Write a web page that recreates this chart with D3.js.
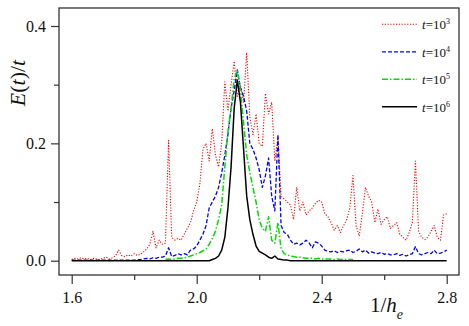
<!DOCTYPE html>
<html>
<head>
<meta charset="utf-8">
<script src="https://cdn.jsdelivr.net/npm/d3@7"></script>
<style>
  body { margin: 0; background: #fff; }
  svg text { font-family: "Liberation Serif", "Times New Roman", serif; fill: #111; }
</style>
</head>
<body>
<div id="chart"></div>
<script>
const width = 469, height = 326;

// x grid: 1/h_e from 1.60 in steps of 0.01
const xStart = 1.6, xStep = 0.01;

// t = 10^3 (red, dotted), 1.60 .. 2.80
const red = [
  0.002, 0.004, 0.003, 0.005, 0.003, 0.004, 0.002, 0.004, 0.003, 0.002,
  0.004, 0.006, 0.003, 0.005, 0.008, 0.018, 0.009, 0.007, 0.010, 0.008,
  0.012, 0.009, 0.011, 0.015, 0.020, 0.028, 0.050, 0.022, 0.035, 0.028,
  0.030, 0.205, 0.040, 0.035, 0.038, 0.035, 0.045, 0.055, 0.065, 0.085,
  0.100, 0.130, 0.190, 0.200, 0.170, 0.225, 0.180, 0.160, 0.200, 0.305,
  0.255, 0.300, 0.340, 0.280, 0.300, 0.270, 0.355, 0.245, 0.215, 0.250,
  0.200, 0.195, 0.285, 0.250, 0.270, 0.170, 0.210, 0.110, 0.105, 0.100,
  0.095, 0.070, 0.125, 0.085, 0.100, 0.078, 0.085, 0.090, 0.098, 0.103,
  0.100, 0.080, 0.075, 0.065, 0.052, 0.060, 0.048, 0.060, 0.070, 0.090,
  0.145, 0.060, 0.042, 0.080, 0.125, 0.110, 0.100, 0.065, 0.088, 0.062,
  0.070, 0.075, 0.055, 0.060, 0.065, 0.045, 0.040, 0.035, 0.048, 0.065,
  0.170, 0.050, 0.040, 0.036, 0.040, 0.050, 0.060, 0.040, 0.035, 0.078,
  0.080
];

// t = 10^4 (blue, dashed), 1.60 .. 2.80
const blue = [
  0.001, 0.001, 0.001, 0.001, 0.001, 0.001, 0.001, 0.001, 0.001, 0.001,
  0.001, 0.001, 0.001, 0.001, 0.001, 0.001, 0.001, 0.001, 0.001, 0.001,
  0.001, 0.002, 0.002, 0.003, 0.004, 0.003, 0.005, 0.004, 0.006, 0.006,
  0.008, 0.022, 0.007, 0.009, 0.012, 0.010, 0.012, 0.010, 0.018, 0.020,
  0.025, 0.035, 0.045, 0.060, 0.090, 0.100, 0.110, 0.125, 0.150, 0.180,
  0.215, 0.260, 0.290, 0.325, 0.295, 0.280, 0.255, 0.200, 0.190, 0.175,
  0.155, 0.125, 0.145, 0.175, 0.110, 0.085, 0.215, 0.060, 0.048, 0.045,
  0.035, 0.028, 0.030, 0.027, 0.030, 0.035, 0.030, 0.022, 0.032, 0.030,
  0.025, 0.018, 0.016, 0.015, 0.017, 0.014, 0.016, 0.015, 0.017, 0.018,
  0.014, 0.016, 0.020, 0.015, 0.018, 0.013, 0.015, 0.013, 0.012, 0.014,
  0.011, 0.012, 0.010, 0.010, 0.012, 0.009, 0.011, 0.008, 0.010, 0.012,
  0.024, 0.012, 0.010, 0.012, 0.014, 0.012, 0.018, 0.012, 0.013, 0.015,
  0.018
];

// t = 10^5 (green, dash-dot), 1.90 .. 2.50
const greenStart = 1.9;
const green = [
  0.002, 0.003, 0.002, 0.003, 0.004, 0.004, 0.005, 0.006, 0.008, 0.010,
  0.012, 0.014, 0.017, 0.020, 0.028, 0.038, 0.050, 0.070, 0.095, 0.160,
  0.220, 0.260, 0.310, 0.325, 0.290, 0.235, 0.180, 0.150, 0.125, 0.100,
  0.070, 0.055, 0.050, 0.075, 0.035, 0.030, 0.065, 0.020, 0.012, 0.010,
  0.008, 0.007, 0.006, 0.006, 0.005, 0.004, 0.004, 0.004, 0.003, 0.004,
  0.003, 0.003, 0.003, 0.003, 0.002, 0.003, 0.002, 0.002, 0.002, 0.002,
  0.002
];

// t = 10^6 (black, solid), 1.60 .. 2.80
const black = [
  0, 0, 0, 0, 0, 0, 0, 0, 0, 0,
  0, 0, 0, 0, 0, 0, 0, 0, 0, 0,
  0, 0, 0, 0, 0, 0, 0, 0, 0, 0,
  0, 0, 0, 0, 0, 0, 0, 0, 0, 0,
  0, 0, 0, 0, 0, 0.002, 0.004, 0.008, 0.018, 0.040,
  0.090, 0.160, 0.260, 0.308, 0.270, 0.190, 0.110, 0.070, 0.045, 0.025,
  0.016, 0.013, 0.010, 0.006, 0.004, 0.008, 0.003, 0.002, 0.001, 0.001,
  0, 0, 0, 0, 0, 0, 0, 0, 0, 0,
  0, 0, 0, 0, 0, 0, 0, 0, 0, 0,
  0, 0, 0, 0, 0, 0, 0, 0, 0, 0,
  0, 0, 0, 0, 0, 0, 0, 0, 0, 0,
  0, 0, 0, 0, 0, 0, 0, 0, 0, 0,
  0
];

const xTicks = [1.6, 2.0, 2.4, 2.8];
const xMinor = [1.8, 2.2, 2.6];
const yTicks = [0.0, 0.2, 0.4];
const yMinor = [0.1, 0.3];
const legendExp = ["3", "4", "5", "6"];

const series = [
  { values: red, start: xStart, color: "#ff0000", dash: "1.2,1.6", w: 1.1 },
  { values: blue, start: xStart, color: "#0000ff", dash: "4,2", w: 1.3 },
  { values: green, start: greenStart, color: "#00dd00", dash: "6,2,1.5,2", w: 1.5 },
  { values: black, start: xStart, color: "#000000", dash: null, w: 1.5 }
];

const frame = { left: 59, top: 8, right: 459, bottom: 275 };

const svg = d3.select("#chart")
  .append("svg")
  .attr("width", width)
  .attr("height", height);

const x = d3.scaleLinear().domain([1.6, 2.8]).range([71.7, 446.7]);
const y = d3.scaleLinear().domain([0, 0.4]).range([260.7, 26]);

// lines
const line = d3.line()
  .x((d) => x(d[0]))
  .y((d) => y(d[1]));

series.forEach(function(s) {
  let pts = s.values.map((v, i) => [s.start + i * xStep, v]);
  svg.append("path")
    .attr("d", line(pts))
    .attr("fill", "none")
    .attr("stroke", s.color)
    .attr("stroke-width", s.w)
    .attr("stroke-dasharray", s.dash)
    .attr("stroke-linejoin", "round");
});

// frame
svg.append("rect")
  .attr("x", frame.left)
  .attr("y", frame.top)
  .attr("width", frame.right - frame.left)
  .attr("height", frame.bottom - frame.top)
  .attr("fill", "none")
  .attr("stroke", "#333")
  .attr("stroke-width", 1.3);

// axes
let xAxis = svg.append("g")
  .attr("transform", "translate(0," + frame.bottom + ")")
  .call(d3.axisBottom(x).tickValues(xTicks).tickFormat(d3.format(".1f")).tickSize(9).tickPadding(7.5));
let xAxisMinor = svg.append("g")
  .attr("transform", "translate(0," + frame.bottom + ")")
  .call(d3.axisBottom(x).tickValues(xMinor).tickFormat("").tickSize(5));

let yAxis = svg.append("g")
  .attr("transform", "translate(" + frame.left + ",0)")
  .call(d3.axisLeft(y).tickValues(yTicks).tickFormat(d3.format(".1f")).tickSize(8).tickPadding(5));
let yAxisMinor = svg.append("g")
  .attr("transform", "translate(" + frame.left + ",0)")
  .call(d3.axisLeft(y).tickValues(yMinor).tickFormat("").tickSize(5));

[xAxis, xAxisMinor, yAxis, yAxisMinor].forEach(function(a) {
  a.select(".domain").remove();
  a.selectAll("line").attr("stroke", "#333").attr("stroke-width", 1.2);
  a.selectAll("text")
    .attr("font-size", 16)
    .attr("font-family", "Liberation Serif, Times New Roman, serif")
    .attr("fill", "#111");
});

// x title: 1/h_e
let xt = svg.append("text")
  .attr("x", 370)
  .attr("y", 311.5)
  .attr("font-size", 21);
xt.append("tspan").text("1/");
xt.append("tspan").attr("font-style", "italic").text("h");
xt.append("tspan").attr("font-style", "italic").attr("font-size", 14).attr("dy", 7).text("e");

// y title: E(t)/t
let yt = svg.append("text")
  .attr("transform", "translate(25,83) rotate(-90)")
  .attr("text-anchor", "middle")
  .attr("font-size", 22);
yt.append("tspan").attr("font-style", "italic").text("E");
yt.append("tspan").text("(");
yt.append("tspan").attr("font-style", "italic").text("t");
yt.append("tspan").text(")/");
yt.append("tspan").attr("font-style", "italic").text("t");

// legend
let legend = svg.append("g").attr("class", "legend");
series.forEach(function(s, i) {
  let ly = 24.3 + i * 27.5;
  legend.append("line")
    .attr("x1", 382).attr("x2", 417)
    .attr("y1", ly).attr("y2", ly)
    .attr("stroke", s.color)
    .attr("stroke-width", s.w)
    .attr("stroke-dasharray", s.dash);
  let t = legend.append("text")
    .attr("x", 422)
    .attr("y", ly + 5)
    .attr("font-size", 13);
  t.append("tspan").attr("font-style", "italic").text("t");
  t.append("tspan").text("=10");
  t.append("tspan").attr("font-size", 8).attr("dy", -5).text(legendExp[i]);
});
</script>
</body>
</html>
